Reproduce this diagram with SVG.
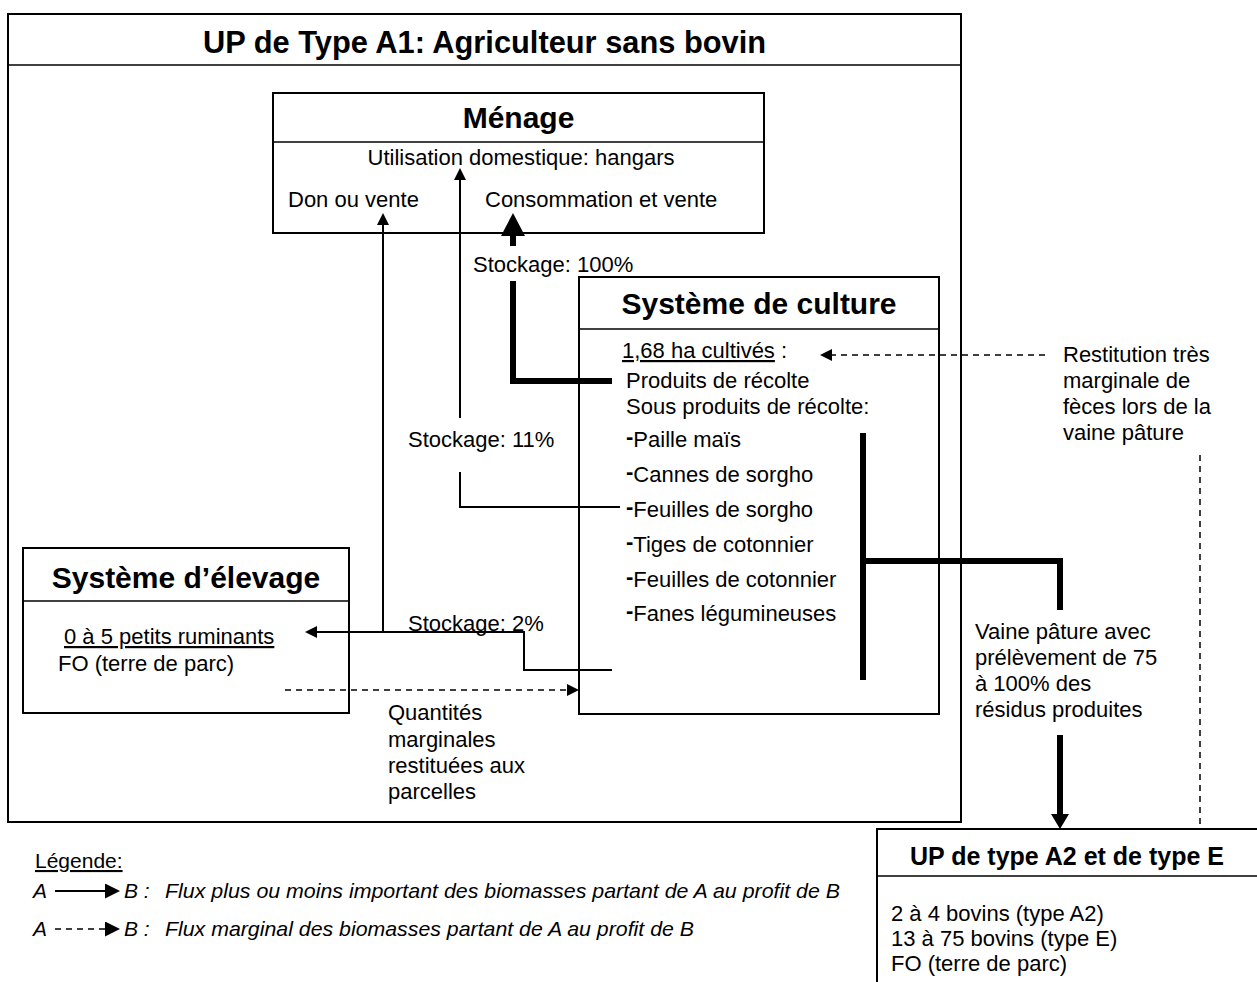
<svg xmlns="http://www.w3.org/2000/svg" width="1257" height="982" viewBox="0 0 1257 982">
<style>
  text { font-family: "Liberation Sans", Arial, sans-serif; fill: #000; }
  .t { font-size: 22px; }
  .h { font-size: 30px; font-weight: bold; }
  .lg { font-size: 21px; font-style: italic; }
  .box { fill: #fff; stroke: #000; stroke-width: 2; }
  .div { stroke: #000; stroke-width: 1.5; fill: none; }
  .thin { stroke: #000; stroke-width: 2; fill: none; }
  .thick { stroke: #000; stroke-width: 6; fill: none; }
  .dash { stroke: #000; stroke-width: 1.5; fill: none; stroke-dasharray: 6 5; }
</style>
<defs>
  <marker id="ah" markerUnits="userSpaceOnUse" markerWidth="12" markerHeight="12" viewBox="0 0 12 12" refX="0" refY="6" orient="auto">
    <path d="M0,0 L12,6 L0,12 z" fill="#000"/>
  </marker>
  <marker id="ahLg" markerUnits="userSpaceOnUse" markerWidth="15" markerHeight="15" viewBox="0 0 15 15" refX="0" refY="7.5" orient="auto">
    <path d="M0,0 L15,7.5 L0,15 z" fill="#000"/>
  </marker>
  <marker id="ahBig" markerUnits="userSpaceOnUse" markerWidth="23" markerHeight="24" viewBox="0 0 23 24" refX="0" refY="12" orient="auto">
    <path d="M0,0 L23,12 L0,24 z" fill="#000"/>
  </marker>
  <marker id="ahMed" markerUnits="userSpaceOnUse" markerWidth="15" markerHeight="18" viewBox="0 0 15 18" refX="0" refY="9" orient="auto">
    <path d="M0,0 L15,9 L0,18 z" fill="#000"/>
  </marker>
</defs>

<g id="up-a1">
  <rect class="box" x="8" y="14" width="953" height="808"/>
  <line class="div" x1="8" y1="65" x2="961" y2="65" stroke-width="2"/>
  <text x="484.5" y="53" text-anchor="middle" font-size="30.5" font-weight="bold" textLength="563" lengthAdjust="spacingAndGlyphs">UP de Type A1: Agriculteur sans bovin</text>
</g>

<g id="menage">
  <rect class="box" x="273" y="93" width="491" height="140"/>
  <line class="div" x1="273" y1="142" x2="764" y2="142"/>
  <text class="h" x="518.5" y="128" text-anchor="middle">Ménage</text>
  <text class="t" x="521" y="165" text-anchor="middle">Utilisation domestique: hangars</text>
  <text class="t" x="288" y="207">Don ou vente</text>
  <text class="t" x="485" y="207">Consommation et vente</text>
</g>

<g id="culture">
  <rect class="box" x="579" y="277" width="360" height="437"/>
  <line class="div" x1="579" y1="329" x2="939" y2="329"/>
  <text class="h" x="759" y="314" text-anchor="middle">Système de culture</text>
  <text class="t" x="622" y="358"><tspan text-decoration="underline">1,68 ha cultivés</tspan> :</text>
  <text class="t" x="626" y="388">Produits de récolte</text>
  <text class="t" x="626" y="414">Sous produits de récolte:</text>
  <text class="t" x="626" y="447"><tspan font-weight="bold" dy="-3">-</tspan><tspan dy="3">Paille maïs</tspan></text>
  <text class="t" x="626" y="482"><tspan font-weight="bold" dy="-3">-</tspan><tspan dy="3">Cannes de sorgho</tspan></text>
  <text class="t" x="626" y="517"><tspan font-weight="bold" dy="-3">-</tspan><tspan dy="3">Feuilles de sorgho</tspan></text>
  <text class="t" x="626" y="552"><tspan font-weight="bold" dy="-3">-</tspan><tspan dy="3">Tiges de cotonnier</tspan></text>
  <text class="t" x="626" y="587"><tspan font-weight="bold" dy="-3">-</tspan><tspan dy="3">Feuilles de cotonnier</tspan></text>
  <text class="t" x="626" y="621"><tspan font-weight="bold" dy="-3">-</tspan><tspan dy="3">Fanes légumineuses</tspan></text>
</g>

<g id="elevage">
  <rect class="box" x="23" y="548" width="326" height="165"/>
  <line class="div" x1="23" y1="601" x2="349" y2="601"/>
  <text class="h" x="186" y="588" text-anchor="middle">Système d’élevage</text>
  <text class="t" x="64" y="644" text-decoration="underline">0 à 5 petits ruminants</text>
  <text class="t" x="58" y="671">FO (terre de parc)</text>
</g>

<g id="up-a2-e">
  <rect class="box" x="877" y="829" width="400" height="170"/>
  <line class="div" x1="877" y1="876" x2="1257" y2="876"/>
  <text x="1067" y="865" text-anchor="middle" font-size="25" font-weight="bold">UP de type A2 et de type E</text>
  <text class="t" x="891" y="921">2 à 4 bovins (type A2)</text>
  <text class="t" x="891" y="946">13 à 75 bovins (type E)</text>
  <text class="t" x="891" y="971">FO (terre de parc)</text>
</g>

<g id="connectors">
  <path class="thin" d="M383,632 V225" marker-end="url(#ah)"/>
  <path class="thin" d="M620,507 H460 V472"/>
  <path class="thin" d="M460,418 V180" marker-end="url(#ah)"/>
  <text class="t" x="408" y="447">Stockage: 11%</text>
  <path class="thick" d="M612,381 H513 V281"/>
  <path class="thick" d="M513,246 V236" marker-end="url(#ahBig)"/>
  <text class="t" x="473" y="272">Stockage: 100%</text>
  <path class="thin" d="M612,670 H524 V632 H317" marker-end="url(#ah)"/>
  <text class="t" x="408" y="631">Stockage: 2%</text>
  <path class="dash" d="M285,690 H567" marker-end="url(#ah)"/>
  <text class="t" x="388" y="720">Quantités</text>
  <text class="t" x="388" y="747">marginales</text>
  <text class="t" x="388" y="773">restituées aux</text>
  <text class="t" x="388" y="799">parcelles</text>
  <path class="dash" d="M1045,355 H832" marker-end="url(#ah)"/>
  <path class="dash" d="M1200,455 V828"/>
  <text class="t" x="1063" y="362">Restitution très</text>
  <text class="t" x="1063" y="388">marginale de</text>
  <text class="t" x="1063" y="414">fèces lors de la</text>
  <text class="t" x="1063" y="440">vaine pâture</text>
  <path class="thick" d="M863,433 V680"/>
  <path class="thick" d="M863,561 H1060 V610"/>
  <path class="thick" d="M1060,735 V814" marker-end="url(#ahMed)"/>
  <text class="t" x="975" y="639">Vaine pâture avec</text>
  <text class="t" x="975" y="665">prélèvement de 75</text>
  <text class="t" x="975" y="691">à 100% des</text>
  <text class="t" x="975" y="717">résidus produites</text>
</g>

<g id="legende">
  <text x="35" y="868" font-size="21" text-decoration="underline">Légende:</text>
  <text class="lg" x="33" y="898">A</text>
  <path class="thin" d="M55,891 H105" marker-end="url(#ahLg)"/>
  <text class="lg" x="124" y="898">B :</text>
  <text class="lg" x="165" y="898" textLength="675" lengthAdjust="spacingAndGlyphs">Flux plus ou moins important des biomasses partant de A au profit de B</text>
  <text class="lg" x="33" y="936">A</text>
  <path class="dash" d="M55,929 H105" marker-end="url(#ahLg)"/>
  <text class="lg" x="124" y="936">B :</text>
  <text class="lg" x="165" y="936" textLength="529" lengthAdjust="spacingAndGlyphs">Flux marginal des biomasses partant de A au profit de B</text>
</g>
</svg>
